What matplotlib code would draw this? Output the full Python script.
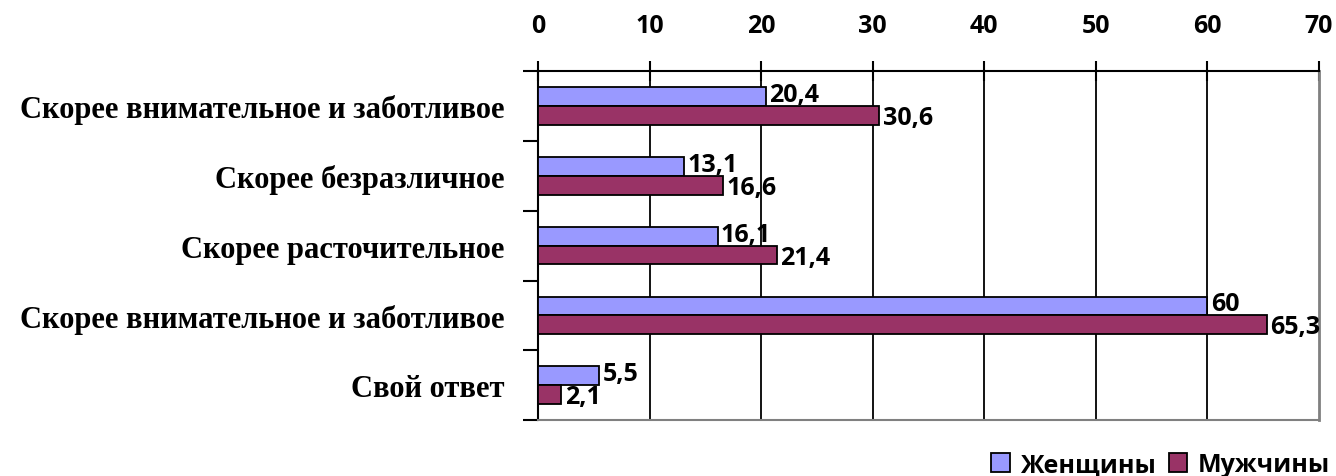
import numpy as np
import matplotlib.pyplot as plt

categories = ['Скорее внимательное и заботливое', 'Скорее безразличное',
              'Скорее расточительное', 'Скорее внимательное и заботливое',
              'Свой ответ']
women = [20.4, 13.1, 16.1, 60, 5.5]
men = [30.6, 16.6, 21.4, 65.3, 2.1]
women_lbl = ['20,4', '13,1', '16,1', '60', '5,5']
men_lbl = ['30,6', '16,6', '21,4', '65,3', '2,1']

sans = 'Open Sans'
serif = 'Liberation Serif'

fig = plt.figure(figsize=(13.36, 4.77), dpi=100)
ax = fig.add_axes([0.4027, 0.117, 0.9873 - 0.4027, 0.849 - 0.117])

y = np.arange(len(categories))
h = 0.27
ax.barh(y - h / 2, women, height=h, color='#9999FF', edgecolor='black', lw=1.3,
        label='Женщины', zorder=3)
ax.barh(y + h / 2, men, height=h, color='#993366', edgecolor='black', lw=1.3,
        label='Мужчины', zorder=3)

for i in range(len(categories)):
    ax.text(women[i] + 0.3, y[i] - h / 2 - 0.03, women_lbl[i], family=sans,
            fontweight='bold', fontsize=18, va='center', ha='left', zorder=4)
    ax.text(men[i] + 0.3, y[i] + h / 2 + 0.03, men_lbl[i], family=sans,
            fontweight='bold', fontsize=18, va='center', ha='left', zorder=4)

ax.set_xlim(0, 70)
ax.set_ylim(len(categories) - 0.5, -0.5)
ax.xaxis.tick_top()
ax.set_xticks(range(0, 71, 10))
ax.set_xticklabels([str(v) for v in range(0, 71, 10)], family=sans,
                   fontweight='bold', fontsize=18)
ax.tick_params(axis='x', direction='inout', length=14, width=1.5, pad=17)
for v in range(10, 70, 10):
    ax.axvline(v, color='black', lw=1.3, zorder=1)

ax.set_yticks(y)
ax.set_yticklabels(categories, family=serif, fontweight='bold', fontsize=22)
ax.tick_params(axis='y', which='major', length=0, pad=24)
ax.set_yticks(np.arange(-0.5, len(categories), 1), minor=True)
ax.tick_params(axis='y', which='minor', length=11, width=1.5, direction='out')

ax.spines['top'].set_linewidth(1.5)
ax.spines['left'].set_linewidth(1.5)
ax.spines['right'].set_color('#808080')
ax.spines['right'].set_linewidth(2)
ax.spines['bottom'].set_color('#808080')
ax.spines['bottom'].set_linewidth(1.5)

leg = fig.legend(loc='lower right', bbox_to_anchor=(1.012, -0.05), ncol=2,
                 frameon=False, handlelength=0.75, handleheight=0.75,
                 handletextpad=0.4, columnspacing=0.5,
                 prop={'family': sans, 'weight': 'bold', 'size': 18})

fig.savefig('out.png', dpi=100)
